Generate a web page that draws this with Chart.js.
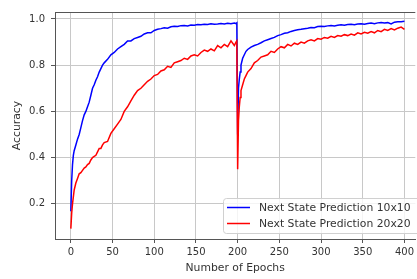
<!DOCTYPE html>
<html>
<head>
<meta charset="utf-8">
<script src="https://cdn.jsdelivr.net/npm/chart.js@4/dist/chart.umd.min.js"></script>
<style>
  html, body { margin: 0; padding: 0; background: #fff; }
  #wrap { width: 417px; height: 279px; }
</style>
</head>
<body>
<div id="wrap"><canvas id="chart" width="417" height="279"></canvas></div>
<script>
const epochs = [0,1,2,3,4,6,8,10,12,14,16,18,20,22,24,26,28,30,32,34,36,38,40,
  44,48,52,56,60,64,68,72,76,80,84,88,92,96,100,104,108,112,116,120,124,128,132,136,140,
  144,148,152,156,160,164,168,172,176,180,184,188,192,196,198,199,200,201,202,203,204,
  206,208,210,212,216,220,224,228,232,236,240,244,248,252,256,260,264,268,272,276,280,
  284,288,292,296,300,304,308,312,316,320,324,328,332,336,340,344,348,352,356,360,364,
  368,372,376,380,384,388,392,396,400];

const acc10 = [0.168,0.30,0.37,0.41,0.43,0.455,0.48,0.50,0.53,0.56,0.585,0.60,0.62,0.64,0.67,0.70,0.715,0.735,0.75,0.77,0.785,0.80,0.81,
  0.825,0.845,0.855,0.87,0.88,0.89,0.905,0.905,0.915,0.92,0.925,0.935,0.94,0.94,0.95,0.955,0.958,0.962,0.96,0.966,0.968,0.967,0.971,0.972,0.97,
  0.974,0.973,0.976,0.975,0.977,0.976,0.979,0.977,0.978,0.98,0.978,0.981,0.979,0.982,0.98,0.983,0.5,0.70,0.74,0.77,0.80,
  0.83,0.845,0.86,0.868,0.878,0.885,0.89,0.897,0.905,0.91,0.915,0.92,0.928,0.932,0.938,0.94,0.946,0.95,0.953,0.955,0.958,
  0.96,0.963,0.962,0.967,0.968,0.967,0.97,0.972,0.97,0.973,0.975,0.973,0.976,0.977,0.975,0.978,0.979,0.977,0.98,0.982,0.979,
  0.983,0.985,0.982,0.984,0.978,0.986,0.988,0.988,0.99];

const acc20 = [0.093,0.16,0.20,0.23,0.26,0.29,0.31,0.33,0.335,0.345,0.355,0.36,0.37,0.375,0.39,0.40,0.405,0.41,0.425,0.44,0.44,0.455,0.465,
  0.47,0.505,0.525,0.545,0.565,0.60,0.62,0.645,0.67,0.69,0.70,0.715,0.73,0.74,0.755,0.76,0.775,0.78,0.795,0.79,0.81,0.815,0.82,0.83,0.825,
  0.84,0.845,0.84,0.855,0.865,0.86,0.87,0.862,0.885,0.875,0.89,0.88,0.905,0.885,0.90,0.905,0.35,0.56,0.62,0.66,0.69,
  0.715,0.74,0.755,0.77,0.785,0.81,0.82,0.835,0.84,0.845,0.86,0.855,0.87,0.88,0.875,0.89,0.883,0.895,0.89,0.90,0.895,
  0.905,0.91,0.905,0.915,0.912,0.92,0.917,0.925,0.92,0.928,0.925,0.932,0.928,0.935,0.93,0.94,0.935,0.942,0.938,0.945,0.94,
  0.95,0.945,0.955,0.95,0.958,0.952,0.96,0.965,0.955];

const xTicks = [0,50,100,150,200,250,300,350,400];
const yTicks = [0.2,0.4,0.6,0.8,1.0];
const labels = ['Next State Prediction 10x10', 'Next State Prediction 20x20'];

const FONT = 'DejaVu Sans';
const TXT = '#333';

function pts(ys) { return epochs.map((e, i) => ({ x: e, y: ys[i] })); }

// legend box inside the plot + top spine
const extras = {
  id: 'extras',
  afterDraw(chart) {
    const ctx = chart.ctx, a = chart.chartArea;
    ctx.save();
    ctx.strokeStyle = '#555';
    ctx.lineWidth = 1;
    ctx.beginPath();
    ctx.moveTo(a.left, a.top + 0.5);
    ctx.lineTo(a.right, a.top + 0.5);
    ctx.stroke();

    const bx = 223.5, by = 198.5, bw = 200, bh = 35;
    ctx.fillStyle = 'rgba(255,255,255,0.8)';
    ctx.strokeStyle = '#d0d0d0';
    ctx.beginPath();
    ctx.roundRect(bx, by, bw, bh, 3);
    ctx.fill();
    ctx.stroke();

    ctx.font = '10.8px "' + FONT + '"';
    ctx.textBaseline = 'middle';
    ctx.textAlign = 'left';
    chart.data.datasets.forEach((ds, i) => {
      const y = 207.5 + i * 16;
      ctx.strokeStyle = ds.borderColor;
      ctx.lineWidth = 1.5;
      ctx.beginPath();
      ctx.moveTo(227, y);
      ctx.lineTo(250, y);
      ctx.stroke();
      ctx.fillStyle = TXT;
      ctx.fillText(ds.label, 259, y + 0.5);
    });
    ctx.restore();
  }
};

new Chart(document.getElementById('chart'), {
  type: 'line',
  data: {
    datasets: [
      { label: labels[0], data: pts(acc10), borderColor: '#0000ff', borderWidth: 1.5, order: 1 },
      { label: labels[1], data: pts(acc20), borderColor: '#ff0000', borderWidth: 1.5, order: 0 }
    ]
  },
  options: {
    responsive: false,
    animation: false,
    layout: { padding: { top: 2, right: 0, left: 0, bottom: 0 } },
    elements: { point: { radius: 0 }, line: { tension: 0 } },
    plugins: { legend: { display: false }, tooltip: { enabled: false } },
    scales: {
      x: {
        type: 'linear',
        min: -19, max: 413,
        afterBuildTicks: s => { s.ticks = xTicks.map(v => ({ value: v })); },
        afterFit: s => { s.height = 40; },
        grid: { color: '#c8c8c8', lineWidth: 1, tickLength: 4, tickColor: '#555' },
        border: { color: '#555', width: 1 },
        ticks: { color: TXT, font: { family: FONT, size: 10 }, padding: 3, maxRotation: 0 },
        title: { display: true, text: 'Number of Epochs', color: TXT,
                 font: { family: FONT, size: 10.8 }, padding: { top: 0, bottom: 4 } }
      },
      y: {
        type: 'linear',
        min: 0.048, max: 1.03,
        afterBuildTicks: s => { s.ticks = yTicks.map(v => ({ value: v })); },
        afterFit: s => { s.width = 55; },
        grid: { color: '#c8c8c8', lineWidth: 1, tickLength: 4, tickColor: '#555' },
        border: { color: '#555', width: 1 },
        ticks: { color: TXT, font: { family: FONT, size: 10 }, padding: 6,
                 callback: v => v.toFixed(1) },
        title: { display: true, text: 'Accuracy', color: TXT,
                 font: { family: FONT, size: 10.8 }, padding: { top: 11, bottom: 0 } }
      }
    }
  },
  plugins: [extras]
});
</script>
</body>
</html>
